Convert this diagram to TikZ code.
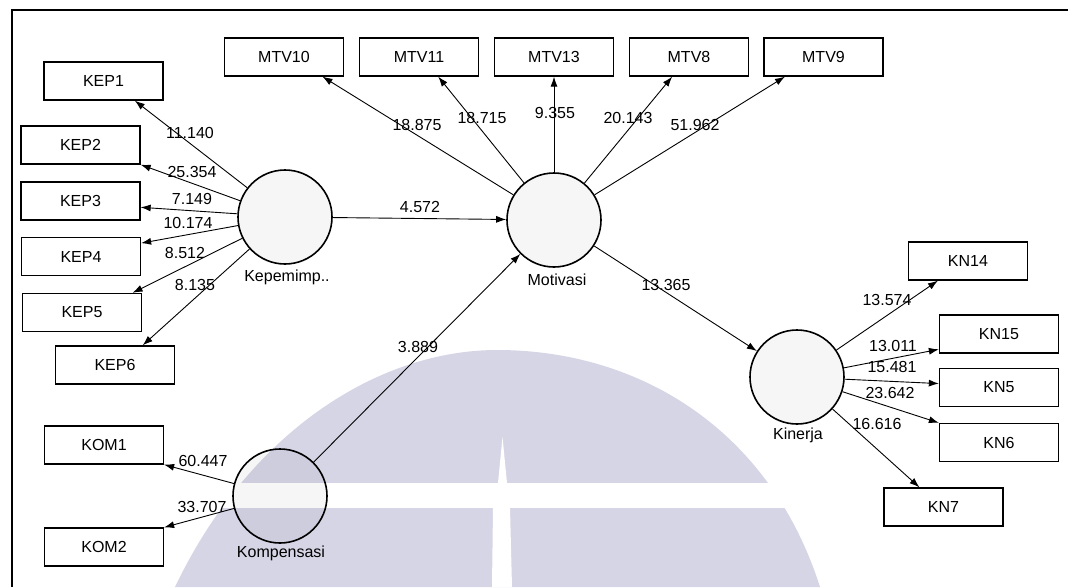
\documentclass[tikz,border=0pt]{standalone}
\usepackage{fontspec}
\setmainfont{Liberation Sans}
\usetikzlibrary{arrows.meta,calc}
\definecolor{wmark}{RGB}{214,213,230}
\begin{document}
\begin{tikzpicture}[x=1pt,y=-1pt,
  every node/.style={font=\fontsize{16}{19}\selectfont},
  ind/.style={draw, line width=1.3pt, fill=white, minimum width=119pt,
              minimum height=38pt, inner sep=0pt},
  lat/.style={circle, draw, line width=1.6pt, fill=black, fill opacity=0.035,
              minimum size=94pt, inner sep=0pt},
  wt/.style={inner sep=0pt},
  link/.style={line width=0.9pt, -{Latex[length=10pt,width=7pt]}}
]
\useasboundingbox (0,0) rectangle (1072,587);

% background emblem
\fill[wmark] (175,587) .. controls (250,430) and (380,350) .. (497,350)
             .. controls (640,350) and (770,430) .. (820,587) -- cycle;
\fill[white] (150,483) rectangle (860,508);
\fill[white] (502.5,437) -- (507,483) -- (498,483) -- cycle;
\fill[white] (493,508) -- (510,508) -- (512,587) -- (492,587) -- cycle;

% frame
\draw[line width=1.5pt] (12,587) -- (12,10) -- (1068,10);

% indicators
\node[ind] (kep1) at (103.5,81) {KEP1};
\node[ind] (kep2) at (80.5,145) {KEP2};
\node[ind] (kep3) at (80.5,201) {KEP3};
\node[ind] (kep4) at (81,256.5) {KEP4};
\node[ind] (kep5) at (82,312.5) {KEP5};
\node[ind] (kep6) at (115,365) {KEP6};
\node[ind] (kom1) at (104,445) {KOM1};
\node[ind] (kom2) at (104,547) {KOM2};
\node[ind] (mtv10) at (284,57) {MTV10};
\node[ind] (mtv11) at (419,57) {MTV11};
\node[ind] (mtv13) at (554,57) {MTV13};
\node[ind] (mtv8) at (689,57) {MTV8};
\node[ind] (mtv9) at (823.5,57) {MTV9};
\node[ind] (kn14) at (968,261) {KN14};
\node[ind] (kn15) at (999,334) {KN15};
\node[ind] (kn5) at (999,387.5) {KN5};
\node[ind] (kn6) at (999,442.5) {KN6};
\node[ind] (kn7) at (943.5,507) {KN7};

% latent variables
\node[lat] (kep) at (285,217) {};
\node[lat] (mot) at (554,220) {};
\node[lat] (kin) at (797,377) {};
\node[lat] (kom) at (280,496) {};
\node (kepL) at (287,277) {Kepemimp..};
\node (motL) at (557,280) {Motivasi};
\node (kinL) at (798,435) {Kinerja};
\node (komL) at (281,553) {Kompensasi};

% outer model
\draw[link] (kep) -- ($(kep1.south west)!0.76!(kep1.south east)$);
\draw[link] (kep) -- (kep2.south east);
\draw[link] (kep) -- ($(kep3.north east)!0.66!(kep3.south east)$);
\draw[link] (kep) -- ($(kep4.north east)!0.16!(kep4.south east)$);
\draw[link] (kep) -- ($(kep5.north west)!0.92!(kep5.north east)$);
\draw[link] (kep) -- ($(kep6.north west)!0.73!(kep6.north east)$);
\draw[link] (kom) -- (kom1.south east);
\draw[link] (kom) -- (kom2.north east);
\draw[link] (mot) -- ($(mtv10.south west)!0.82!(mtv10.south east)$);
\draw[link] (mot) -- ($(mtv11.south west)!0.66!(mtv11.south east)$);
\draw[link] (mot) -- (mtv13.south);
\draw[link] (mot) -- ($(mtv8.south west)!0.36!(mtv8.south east)$);
\draw[link] (mot) -- ($(mtv9.south west)!0.18!(mtv9.south east)$);
\draw[link] (kin) -- ($(kn14.south west)!0.25!(kn14.south east)$);
\draw[link] (kin) -- ($(kn15.north west)!0.89!(kn15.south west)$);
\draw[link] (kin) -- ($(kn5.north west)!0.4!(kn5.south west)$);
\draw[link] (kin) -- (kn6.north west);
\draw[link] (kin) -- ($(kn7.north west)!0.3!(kn7.north east)$);

% inner model
\draw[link] (kep) -- (mot);
\draw[link] (kom) -- (mot);
\draw[link] (mot) -- (kin);

% t-values
\node[wt] (t1) at (190,133) {11.140};
\node[wt] (t2) at (192,172) {25.354};
\node[wt] (t3) at (192,199) {7.149};
\node[wt] (t4) at (188,223) {10.174};
\node[wt] (t5) at (185,253) {8.512};
\node[wt] (t6) at (195,285) {8.135};
\node[wt] (t7) at (420,207) {4.572};
\node[wt] (t8) at (418,347) {3.889};
\node[wt] (t9) at (417,125) {18.875};
\node[wt] (t10) at (482,118) {18.715};
\node[wt] (t11) at (555,113) {9.355};
\node[wt] (t12) at (628,118) {20.143};
\node[wt] (t13) at (695,125) {51.962};
\node[wt] (t14) at (666,285) {13.365};
\node[wt] (t15) at (887,300) {13.574};
\node[wt] (t16) at (893,346) {13.011};
\node[wt] (t17) at (892,367) {15.481};
\node[wt] (t18) at (890,393) {23.642};
\node[wt] (t19) at (877,424) {16.616};
\node[wt] (t20) at (203,461) {60.447};
\node[wt] (t21) at (202,507) {33.707};
\end{tikzpicture}
\end{document}
